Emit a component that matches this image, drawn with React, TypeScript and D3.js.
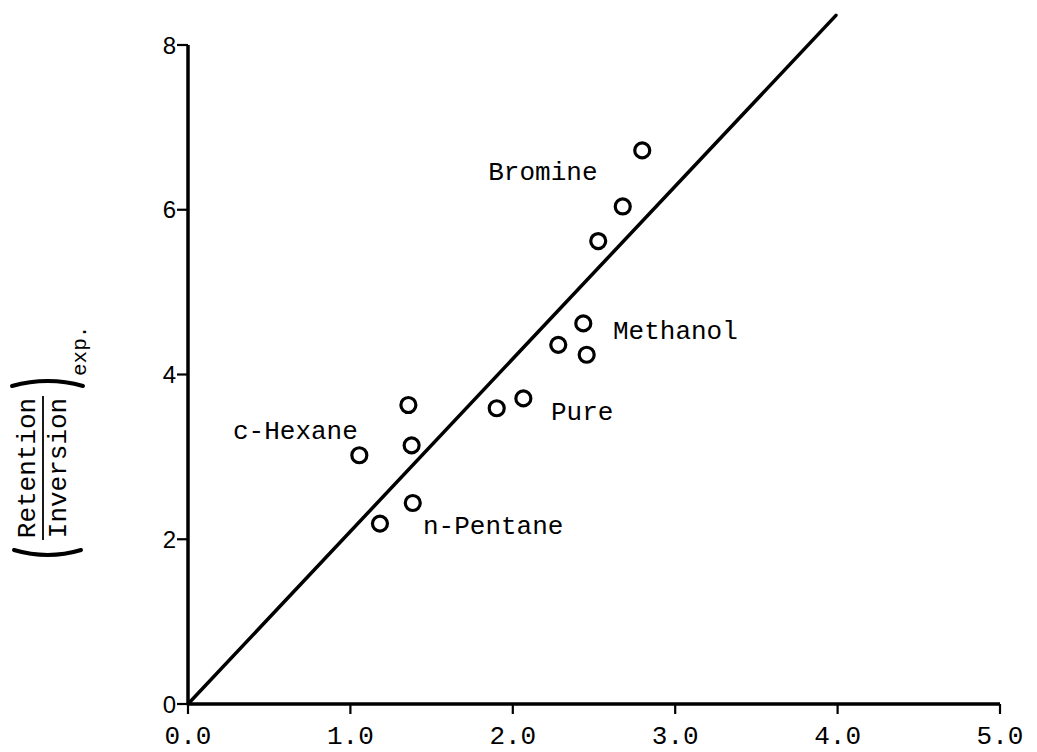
import React from "react";
import * as d3 from "d3";

const xTicks = [0, 1, 2, 3, 4, 5];
const yTicks = [0, 2, 4, 6, 8];
const xTickLabels = ["0.0", "1.0", "2.0", "3.0", "4.0", "5.0"];

const pointsX = [1.357, 1.055, 1.377, 1.384, 1.182, 1.901, 2.065, 2.28, 2.434, 2.455, 2.526, 2.677, 2.797];
const pointsY = [3.63, 3.02, 3.14, 2.44, 2.19, 3.59, 3.71, 4.36, 4.62, 4.24, 5.62, 6.04, 6.72];

const lineX = [0, 3.99];
const lineY = [0, 8.36];

const labelNames = ["Bromine", "Methanol", "Pure", "c-Hexane", "n-Pentane"];
const labelX = [1.849, 2.617, 2.235, 0.277, 1.447];
const labelY = [6.45, 4.51, 3.53, 3.3, 2.15];

const W = 1037;
const H = 752;

export default function App() {
  const x = d3.scaleLinear().domain([0, 5]).range([188, 1000]);
  const y = d3.scaleLinear().domain([0, 8]).range([704, 45]);
  const mono = "'Liberation Mono', 'DejaVu Sans Mono', monospace";
  const sans = "'Liberation Sans', Arial, sans-serif";

  const linePath = d3
    .line<number>()
    .x((_, i) => x(lineX[i]))
    .y((_, i) => y(lineY[i]))(lineX);

  return (
    <svg
      width={W}
      height={H}
      viewBox={`0 0 ${W} ${H}`}
      style={{ position: "absolute", left: 0, top: 0, background: "#fff" }}
    >
      <rect x={0} y={0} width={W} height={H} fill="#fff" />
      {/* axes */}
      <line x1={x(0)} x2={x(0)} y1={y(8)} y2={y(0)} stroke="#000" strokeWidth={3.5} />
      <line x1={x(0)} x2={x(5)} y1={y(0)} y2={y(0)} stroke="#000" strokeWidth={3.5} />
      {yTicks.map((t) => (
        <g key={"yt" + t}>
          <line x1={x(0) - 11} x2={x(0)} y1={y(t)} y2={y(t)} stroke="#000" strokeWidth={2.2} />
          <text
            x={x(0) - 12}
            y={y(t)}
            textAnchor="end"
            dominantBaseline="central"
            fontFamily={sans}
            fontSize={24}
            fill="#000"
          >
            {t}
          </text>
        </g>
      ))}
      {xTicks.map((t, i) => (
        <g key={"xt" + t}>
          <line x1={x(t)} x2={x(t)} y1={y(0)} y2={y(0) + 10} stroke="#000" strokeWidth={2.2} />
          <text
            x={x(t)}
            y={y(0) + 33}
            textAnchor="middle"
            dominantBaseline="central"
            fontFamily={mono}
            fontSize={26}
            fill="#000"
          >
            {xTickLabels[i]}
          </text>
        </g>
      ))}
      {/* fit line */}
      <path d={linePath || ""} fill="none" stroke="#000" strokeWidth={3.5} strokeLinecap="round" />
      {/* points */}
      {pointsX.map((px, i) => (
        <circle
          key={"p" + i}
          cx={x(px)}
          cy={y(pointsY[i])}
          r={7.5}
          fill="#fff"
          stroke="#000"
          strokeWidth={3.2}
        />
      ))}
      {/* labels */}
      {labelNames.map((n, i) => (
        <text
          key={"l" + i}
          x={x(labelX[i])}
          y={y(labelY[i])}
          dominantBaseline="central"
          fontFamily={mono}
          fontSize={26}
          fill="#000"
        >
          {n}
        </text>
      ))}
      {/* y axis label */}
      <g transform="translate(43,468) rotate(-90)">
        <text x={0} y={-15} textAnchor="middle" dominantBaseline="central" fontFamily={mono} fontSize={26} fill="#000">
          Retention
        </text>
        <text x={0} y={16} textAnchor="middle" dominantBaseline="central" fontFamily={mono} fontSize={26} fill="#000">
          Inversion
        </text>
        <line x1={-72} x2={72} y1={0} y2={0} stroke="#000" strokeWidth={1.8} />
        <path d="M -82 -29 Q -92 5 -82 38" fill="none" stroke="#000" strokeWidth={4} strokeLinecap="round" />
        <path d="M 82 -31 Q 92 5 82 40" fill="none" stroke="#000" strokeWidth={4} strokeLinecap="round" />
        <text x={92} y={37} dominantBaseline="central" fontFamily={mono} fontSize={21} fill="#000">
          exp.
        </text>
      </g>
    </svg>
  );
}
